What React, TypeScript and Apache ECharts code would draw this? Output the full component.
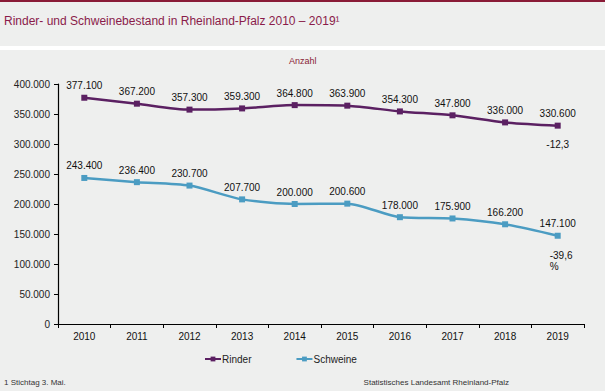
import React, { useEffect, useRef } from "react";
import * as echarts from "echarts";

const years = ["2010", "2011", "2012", "2013", "2014", "2015", "2016", "2017", "2018", "2019"];
const rinder = [377100, 367200, 357300, 359300, 364800, 363900, 354300, 347800, 336000, 330600];
const schweine = [243400, 236400, 230700, 207700, 200000, 200600, 178000, 175900, 166200, 147100];
const rinderChange = "-12,3";
const schweineChange = "-39,6\n%";

const fmt = (v: number) => String(v).replace(/\B(?=(\d{3})+(?!\d))/g, ".");

export default function App() {
  const ref = useRef<HTMLDivElement>(null);
  useEffect(() => {
    const chart = echarts.init(ref.current!, undefined, { renderer: "svg" });
    const font = "Liberation Sans, Arial, sans-serif";
    const purple = "#5b2062";
    const blue = "#4b9cc2";
    chart.setOption({
      animation: false,
      backgroundColor: "#eeefee",
      textStyle: { fontFamily: font },
      graphic: [
        { type: "rect", left: 0, top: 0, shape: { width: 605, height: 2 }, style: { fill: "#8a1b37" } },
        { type: "rect", left: 0, top: 46, shape: { width: 605, height: 4 }, style: { fill: "#ffffff" } },
        {
          type: "text", left: 4, top: 15,
          style: { text: "Rinder- und Schweinebestand in Rheinland-Pfalz 2010 – 2019¹", fill: "#8a1b4a", font: `12px ${font}` },
        },
        { type: "text", left: 289, top: 56, style: { text: "Anzahl", fill: "#8a1b37", font: `9px ${font}` } },
        { type: "text", left: 4, top: 378, style: { text: "1 Stichtag 3. Mai.", fill: "#333", font: `8px ${font}` } },
        { type: "text", right: 96, top: 378, style: { text: "Statistisches Landesamt Rheinland-Pfalz", fill: "#333", font: `8px ${font}` } },
      ],
      legend: {
        bottom: 22,
        left: 199,
        itemGap: 44,
        itemWidth: 16,
        itemHeight: 6,
        textStyle: { fontSize: 10, color: "#222", fontFamily: font, padding: [0, 0, 0, -4] },
        data: ["Rinder", "Schweine"],
      },
      grid: { left: 58, right: 21, top: 84, bottom: 67 },
      xAxis: {
        type: "category",
        data: years,
        boundaryGap: true,
        axisLine: { lineStyle: { color: "#000", width: 1.2 } },
        axisTick: { show: true, length: 4, lineStyle: { color: "#000" } },
        axisLabel: { color: "#111", fontSize: 10, margin: 7, fontFamily: font },
      },
      yAxis: {
        type: "value",
        min: 0,
        max: 400000,
        interval: 50000,
        splitLine: { show: false },
        axisLine: { show: true, lineStyle: { color: "#000", width: 1.2 } },
        axisTick: { show: true, length: 4, lineStyle: { color: "#000" } },
        axisLabel: { color: "#222", fontSize: 10, margin: 8, formatter: (v: number) => fmt(v), fontFamily: font },
      },
      series: [
        {
          name: "Rinder",
          type: "line",
          data: rinder,
          smooth: 0.25,
          symbol: "rect",
          symbolSize: 6,
          itemStyle: { color: purple },
          lineStyle: { color: purple, width: 2.5 },
          label: { show: true, position: "top", distance: 4, fontSize: 10, color: "#111", formatter: (p: any) => fmt(p.value) },
          markPoint: {
            symbol: "circle",
            symbolSize: 0,
            data: [{ coord: [years.length - 1, rinder[rinder.length - 1]] }],
            label: { show: true, position: "bottom", distance: 14, fontSize: 10, color: "#111", formatter: rinderChange },
          },
        },
        {
          name: "Schweine",
          type: "line",
          data: schweine,
          smooth: 0.25,
          symbol: "rect",
          symbolSize: 6,
          itemStyle: { color: blue },
          lineStyle: { color: blue, width: 2.5 },
          label: { show: true, position: "top", distance: 4, fontSize: 10, color: "#111", formatter: (p: any) => fmt(p.value) },
          markPoint: {
            symbol: "circle",
            symbolSize: 0,
            data: [{ coord: [years.length - 1, schweine[schweine.length - 1]] }],
            label: { show: true, position: "bottom", distance: 14, fontSize: 10, color: "#111", align: "left", offset: [-8, 0], formatter: schweineChange, lineHeight: 11 },
          },
        },
      ],
    });
    return () => chart.dispose();
  }, []);
  return <div ref={ref} style={{ position: "fixed", left: 0, top: 0, width: 605, height: 391 }} />;
}
